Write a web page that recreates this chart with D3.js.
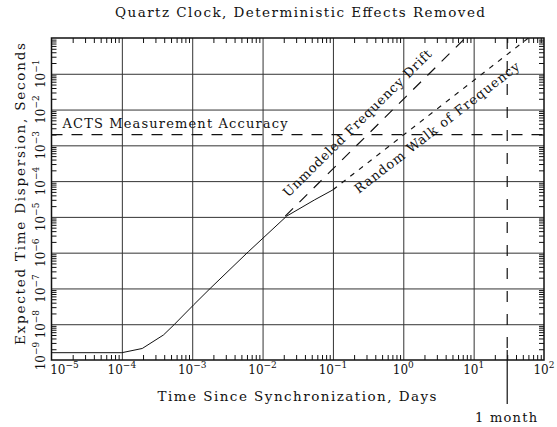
<!DOCTYPE html>
<html><head><meta charset="utf-8">
<script src="https://cdn.jsdelivr.net/npm/d3@7"></script>
<style>
body{margin:0;background:#fff}
svg{display:block}
text{font-family:"DejaVu Serif","Liberation Serif",serif;fill:#111}
</style>
</head><body><svg id="c" width="557" height="427"></svg>
<script>
const title = "Quartz Clock, Deterministic Effects Removed";
const xLabel = "Time Since Synchronization, Days";
const yLabel = "Expected Time Dispersion, Seconds";
const xTickExps = [-5, -4, -3, -2, -1, 0, 1, 2];
const yTickExps = [-9, -8, -7, -6, -5, -4, -3, -2, -1];
const dispersionDays = [1e-5, 1e-4, 1.95e-4, 3.9e-4, 5.5e-4, 1.05e-3, 1.8e-3, 6.3e-3, 2.2e-2, 5.5e-2, 1e-1];
const dispersionSec  = [1.6e-9, 1.6e-9, 2.1e-9, 5e-9, 9.6e-9, 3.5e-8, 1.0e-7, 1.07e-6, 1.05e-5, 3.0e-5, 5.7e-5];
const driftDays = [0.021, 7.6];
const driftSec  = [1.05e-5, 1];
const rwDays = [0.1, 60];
const rwSec  = [5.7e-5, 1];
const actsAccuracy = 2e-3;
const actsLabel = "ACTS Measurement Accuracy";
const driftLabel = "Unmodeled Frequency Drift";
const rwLabel = "Random Walk of Frequency";
const monthDays = 30;
const monthLabel = "1 month";

const svg = d3.select("#c");
const L = 51.5, R = 544, T = 38, B = 360;
const x = d3.scaleLog().domain([1e-5, 1e2]).range([L, R]);
const y = d3.scaleLog().domain([1e-9, 1]).range([B, T]);

const xMinor = [], yMinor = [];
for (let d = -5; d < 2; d++) for (let k = 2; k <= 9; k++) xMinor.push(k * Math.pow(10, d));
for (let d = -9; d < 0; d++) for (let k = 2; k <= 9; k++) yMinor.push(k * Math.pow(10, d));
const xMajor = xTickExps.map(e => Math.pow(10, e));
const yMajor = yTickExps.map(e => Math.pow(10, e));

function styleAxis(g, col, w) {
  g.select(".domain").remove();
  g.selectAll("line").attr("stroke", col).attr("stroke-width", w);
  g.selectAll("text").remove();
}
svg.append("g").attr("transform", `translate(0,${B})`)
  .call(d3.axisBottom(x).tickValues(xMajor.slice(1, -1)).tickSize(-(B - T)).tickFormat(""))
  .call(g => styleAxis(g, "#333", 1));
svg.append("g").attr("transform", `translate(${L},0)`)
  .call(d3.axisLeft(y).tickValues(yMajor.slice(1)).tickSize(-(R - L)).tickFormat(""))
  .call(g => styleAxis(g, "#333", 1));
svg.append("g").attr("transform", `translate(0,${B})`)
  .call(d3.axisBottom(x).tickValues(xMinor).tickSize(-5).tickFormat("")).call(g => styleAxis(g, "#111", 1));
svg.append("g").attr("transform", `translate(0,${T})`)
  .call(d3.axisTop(x).tickValues(xMinor).tickSize(-5).tickFormat("")).call(g => styleAxis(g, "#111", 1));
svg.append("g").attr("transform", `translate(${L},0)`)
  .call(d3.axisLeft(y).tickValues(yMinor).tickSize(-5).tickFormat("")).call(g => styleAxis(g, "#111", 1));
svg.append("g").attr("transform", `translate(${R},0)`)
  .call(d3.axisRight(y).tickValues(yMinor).tickSize(-5).tickFormat("")).call(g => styleAxis(g, "#111", 1));

svg.append("rect").attr("x", L).attr("y", T).attr("width", R - L).attr("height", B - T)
  .attr("fill", "none").attr("stroke", "#111").attr("stroke-width", 1.5);

svg.append("clipPath").attr("id", "clip").append("rect")
  .attr("x", L).attr("y", T).attr("width", R - L).attr("height", B - T);
const plot = svg.append("g").attr("clip-path", "url(#clip)");
const line = d3.line().x(d => x(d[0])).y(d => y(d[1]));

plot.append("line").attr("x1", L).attr("x2", R).attr("y1", y(actsAccuracy)).attr("y2", y(actsAccuracy))
  .attr("stroke", "#111").attr("stroke-width", 1.2).attr("stroke-dasharray", "11,9");
plot.append("line").attr("x1", x(monthDays)).attr("x2", x(monthDays)).attr("y1", T).attr("y2", B)
  .attr("stroke", "#111").attr("stroke-width", 1.2).attr("stroke-dasharray", "11,12");
svg.append("line").attr("x1", x(monthDays)).attr("x2", x(monthDays)).attr("y1", B - 10).attr("y2", 404)
  .attr("stroke", "#111").attr("stroke-width", 1.2);

plot.append("path").datum(dispersionDays.map((d, i) => [d, dispersionSec[i]]))
  .attr("d", line).attr("fill", "none").attr("stroke", "#111").attr("stroke-width", 1);
plot.append("path").datum(driftDays.map((d, i) => [d, driftSec[i]]))
  .attr("d", line).attr("fill", "none").attr("stroke", "#111").attr("stroke-width", 1.2).attr("stroke-dasharray", "11,9");
plot.append("path").datum(rwDays.map((d, i) => [d, rwSec[i]]))
  .attr("d", line).attr("fill", "none").attr("stroke", "#111").attr("stroke-width", 1.2).attr("stroke-dasharray", "5,6");

// labels along the lines: positive offset = above-left of a rising line
function alongLabel(days, secs, atX, offset, label, len) {
  const x1 = x(days[0]), y1 = y(secs[0]), x2 = x(days[1]), y2 = y(secs[1]);
  const ang = Math.atan2(y2 - y1, x2 - x1);
  const ly = y1 + (atX - x1) * (y2 - y1) / (x2 - x1);
  const nx = Math.sin(ang), ny = -Math.cos(ang);
  const cx = atX + nx * offset, cy = ly + ny * offset;
  svg.append("text").attr("transform", `translate(${cx},${cy}) rotate(${ang * 180 / Math.PI})`)
    .attr("text-anchor", "middle").attr("dy", "0.35em").attr("font-size", 13)
    .attr("textLength", len).attr("lengthAdjust", "spacing").text(label);
}
alongLabel(driftDays, driftSec, 368, 15.5, driftLabel, 203);
alongLabel(rwDays, rwSec, 428, -14.5, rwLabel, 205);

svg.append("text").attr("x", 300).attr("y", 17).attr("text-anchor", "middle")
  .attr("font-size", 13.5).attr("textLength", 370).attr("lengthAdjust", "spacing").text(title);
svg.append("text").attr("x", 297).attr("y", 401).attr("text-anchor", "middle")
  .attr("font-size", 13.5).attr("textLength", 279).attr("lengthAdjust", "spacing").text(xLabel);
svg.append("text").attr("transform", "translate(25,194) rotate(-90)").attr("text-anchor", "middle")
  .attr("font-size", 13.5).attr("textLength", 302).attr("lengthAdjust", "spacing").text(yLabel);
svg.append("text").attr("x", 62.5).attr("y", 127.5)
  .attr("font-size", 13).attr("textLength", 225).attr("lengthAdjust", "spacing").text(actsLabel);
svg.append("text").attr("x", 506).attr("y", 422).attr("text-anchor", "middle")
  .attr("font-size", 13).attr("textLength", 62).attr("lengthAdjust", "spacing").text(monthLabel);

function powLabel(sel, e) {
  sel.append("tspan").text("10");
  sel.append("tspan").attr("dy", -6).attr("font-size", 9).text(e < 0 ? "\u2212" + (-e) : String(e));
}
xTickExps.forEach((e, i) => {
  const px = i === 0 ? x(Math.pow(10, e)) + 13 : x(Math.pow(10, e));
  const t = svg.append("text").attr("x", px).attr("y", 374).attr("text-anchor", "middle").attr("font-size", 12);
  powLabel(t, e);
});
yTickExps.forEach(e => {
  const py = y(Math.pow(10, e)) + (e === -9 ? -4 : 0);
  const t = svg.append("text").attr("transform", `translate(45,${py}) rotate(-90)`).attr("text-anchor", "middle").attr("font-size", 12);
  powLabel(t, e);
});
</script></body></html>
